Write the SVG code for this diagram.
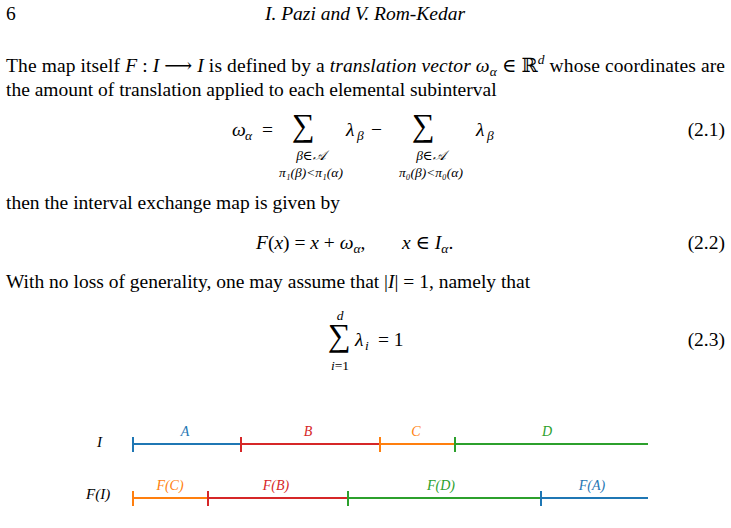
<svg xmlns="http://www.w3.org/2000/svg" width="731" height="528" viewBox="0 0 731 528">
<style>
text{font-family:"Liberation Serif","DejaVu Serif",serif;font-size:19.5px;fill:#000}
.i{font-style:italic}
.s{font-size:13.5px}
.l{font-size:14px;font-style:italic}
.seg{stroke-width:2;fill:none}
.b{stroke:#1f77b4;fill:#1f77b4}.r{stroke:#d62728;fill:#d62728}.o{stroke:#ff7f0e;fill:#ff7f0e}.g{stroke:#2ca02c;fill:#2ca02c}
.lb{stroke:none}
.sum{font-size:32px}
</style>
<rect width="731" height="528" fill="#fff"/>
<text x="6" y="20">6</text>
<text x="365" y="20" text-anchor="middle" class="i">I. Pazi and V. Rom-Kedar</text>
<text x="6" y="72" textLength="719" lengthAdjust="spacing">The map itself <tspan class="i">F</tspan> : <tspan class="i">I</tspan> ⟶ <tspan class="i">I</tspan> is defined by a <tspan class="i">translation vector ω</tspan><tspan class="i s" dy="4">α</tspan><tspan dy="-4"> ∈ ℝ</tspan><tspan class="i s" dy="-8">d</tspan><tspan dy="8"> whose coordinates are</tspan></text>
<text x="6" y="96">the amount of translation applied to each elemental subinterval</text>
<text x="232" y="136" class="i">ω</text><text x="245" y="140" class="i s">α</text><text x="262" y="136">=</text>
<text x="292" y="136" class="sum">∑</text>
<text x="346" y="136" class="i">λ</text><text x="357" y="140" class="i s">β</text><text x="371" y="136">−</text>
<text x="412" y="136" class="sum">∑</text>
<text x="476" y="136" class="i">λ</text><text x="487" y="140" class="i s">β</text>
<text x="311" y="160" text-anchor="middle" class="i s">β∈𝒜</text>
<text x="311" y="177" text-anchor="middle" class="i s">π₁(β)&lt;π₁(α)</text>
<text x="431" y="160" text-anchor="middle" class="i s">β∈𝒜</text>
<text x="431" y="177" text-anchor="middle" class="i s">π₀(β)&lt;π₀(α)</text>
<text x="725" y="136" text-anchor="end">(2.1)</text>
<text x="6" y="209">then the interval exchange map is given by</text>
<text x="256" y="249"><tspan class="i">F</tspan>(<tspan class="i">x</tspan>) = <tspan class="i">x</tspan> + <tspan class="i">ω</tspan><tspan class="i s" dy="4">α</tspan><tspan dy="-4">,</tspan></text>
<text x="402" y="249"><tspan class="i">x</tspan> ∈ <tspan class="i">I</tspan><tspan class="i s" dy="4">α</tspan><tspan dy="-4">.</tspan></text>
<text x="725" y="249" text-anchor="end">(2.2)</text>
<text x="6" y="288">With no loss of generality, one may assume that |<tspan class="i">I</tspan>| = 1, namely that</text>
<text x="340" y="320" text-anchor="middle" class="i s">d</text>
<text x="328" y="346" class="sum">∑</text>
<text x="355" y="346" class="i">λ</text><text x="365" y="350" class="i s">i</text><text x="378" y="346">= 1</text>
<text x="340" y="370" text-anchor="middle" class="s"><tspan class="i">i</tspan>=1</text>
<text x="725" y="346" text-anchor="end">(2.3)</text>
<g id="top-interval">
<text x="97" y="447" class="i" style="font-size:15px">I</text>
<path class="seg b" d="M133 444H241M133 437V452"/>
<path class="seg r" d="M241 444H380M241 437V452"/>
<path class="seg o" d="M380 444H455M380 437V452"/>
<path class="seg g" d="M455 444H648M455 437V452"/>
<text x="185" y="436" class="l b lb" text-anchor="middle">A</text>
<text x="308" y="436" class="l r lb" text-anchor="middle">B</text>
<text x="416" y="436" class="l o lb" text-anchor="middle">C</text>
<text x="547" y="436" class="l g lb" text-anchor="middle">D</text>
</g>
<g id="bottom-interval">
<text x="86" y="499" class="i" style="font-size:15px">F(I)</text>
<path class="seg o" d="M133 498H208M133 491V506"/>
<path class="seg r" d="M208 498H348M208 491V506"/>
<path class="seg g" d="M348 498H541M348 491V506"/>
<path class="seg b" d="M541 498H648M541 491V506"/>
<text x="170" y="490" class="l o lb" text-anchor="middle">F(C)</text>
<text x="276" y="490" class="l r lb" text-anchor="middle">F(B)</text>
<text x="441" y="490" class="l g lb" text-anchor="middle">F(D)</text>
<text x="592" y="490" class="l b lb" text-anchor="middle">F(A)</text>
</g>
</svg>
